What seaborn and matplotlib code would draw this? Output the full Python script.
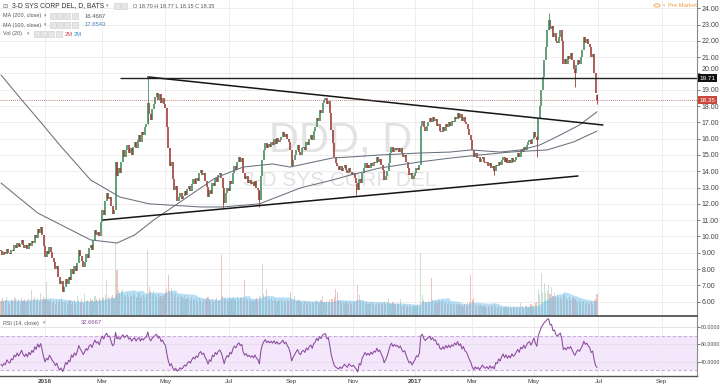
import numpy as np
import pandas as pd
import matplotlib
matplotlib.use("Agg")
import matplotlib.pyplot as plt
import matplotlib.transforms as mtransforms
from matplotlib.patches import Rectangle, Circle
import seaborn as sns

# ---------------- data ----------------
# daily closes, one per trading day, 2015-11-18 .. 2017-06-30
close = [
    9.1, 8.85, 9.05, 8.9, 9.25, 9.0, 8.9, 9.2, 9.1, 9.45, 9.3,
    9.6, 9.35, 9.55, 9.8, 9.5, 9.3, 9.5, 9.25, 9.6, 9.4,
    9.75, 9.6, 10.1, 9.9, 10.45, 10.2, 10.6,
    10.1, 9.4, 8.75, 9.1, 8.9, 9.35, 9.05, 8.7,
    8.45, 8.0, 8.2, 7.5, 7.1, 7.25, 6.6,
    6.9, 7.4, 7.1, 7.5, 7.3, 8.0, 7.7, 8.2,
    7.9, 8.4, 9.2, 8.8, 8.5, 8.1, 8.45, 8.9,
    8.7, 9.3, 9.5, 9.2, 9.8, 10.4, 10.1, 10.3,
    10.0, 10.9, 11.6, 11.3, 12.2, 12.65, 12.3, 12.45, 11.9,
    11.4, 11.65, 14.6, 13.7, 14.2, 13.9, 14.6, 15.3,
    14.9, 15.3, 15.6, 15.1, 15.4, 15.0, 15.5, 15.8, 15.4,
    15.9, 16.2, 15.8, 16.4, 16.2, 16.7, 16.9,
    18.2, 17.5, 17.15, 17.8, 18.1, 18.55,
    18.8, 18.4, 18.75, 18.2, 18.5, 18.1,
    17.9, 16.7, 15.4, 14.3, 14.6, 13.5, 12.85, 13.1, 12.2,
    12.4, 12.65, 12.3, 12.5, 12.8, 12.55, 12.9, 13.1, 12.8, 13.2,
    13.5, 13.25, 13.6, 13.4, 13.9, 14.1, 13.75, 13.9, 13.4, 13.05,
    12.4, 12.85, 12.6, 13.3, 13.1, 13.6, 13.35, 13.75, 13.9, 13.6,
    13.0, 12.05, 12.65, 13.0, 12.8, 13.4, 13.2, 13.9, 14.3, 14.1,
    14.6, 14.9, 14.6, 14.8, 13.9, 13.5, 13.7, 13.3, 13.45, 13.2,
    13.35, 13.1, 13.4, 13.0, 12.85, 12.25, 13.7, 14.7, 15.3, 15.75,
    15.4, 15.7, 15.5, 15.8, 15.6, 16.0, 15.7, 16.05, 15.8, 15.9,
    16.1, 16.4, 16.1, 16.3, 16.0, 15.8, 15.3, 14.3, 14.7, 15.0,
    15.3, 15.6, 15.2, 15.0, 15.4, 15.5, 15.3, 15.8, 15.6, 16.0,
    16.2, 15.9, 16.5, 16.7, 17.3, 17.1, 17.75, 17.6, 18.2, 18.4,
    18.5, 18.1, 18.3, 17.6, 16.55, 15.75, 14.9, 14.5, 14.3, 14.1,
    14.3, 14.0, 14.2, 14.4, 14.1, 13.9, 14.2, 13.95, 13.8, 13.9,
    13.6, 13.3, 12.85, 13.5, 13.3, 13.9, 14.2, 14.5, 14.2, 14.4,
    14.2, 14.5, 14.3, 14.6, 14.5, 14.9, 14.6, 14.75, 14.4, 14.1,
    13.45, 13.7, 14.0, 14.5, 15.1, 15.5, 15.2, 15.45, 15.3, 15.4,
    15.2, 15.4, 15.1, 14.9, 15.0, 14.6, 14.2, 13.8, 13.9, 13.5, 13.7,
    13.9, 14.2, 14.1, 14.4, 16.8, 17.1, 16.7, 16.5, 16.8,
    17.0, 17.3, 17.0, 17.35, 17.1, 17.2, 16.8, 16.9, 16.5, 16.4,
    16.7, 16.5, 16.9, 16.7, 17.0, 16.8, 17.1, 17.0, 17.35, 17.2,
    17.6, 17.3, 17.5, 17.1, 17.35, 17.0, 16.9, 16.6, 16.2, 15.9,
    15.3, 14.9, 15.1, 14.8, 14.9, 14.6, 14.75, 14.9, 14.6, 14.5,
    14.6, 14.3, 14.5, 14.2, 14.3, 14.0, 14.4, 14.3, 14.6, 14.4,
    14.7, 14.9, 14.6, 14.8, 14.5, 14.7, 14.5, 14.8, 14.6, 14.7,
    14.9, 15.1, 14.9, 15.3, 15.2, 15.5, 15.3, 15.6, 15.8, 15.9,
    15.7, 16.0, 16.4, 16.1, 15.9, 17.2, 18.0, 19.0, 19.8, 20.8,
    21.6, 22.65, 23.3, 22.7, 22.9, 22.25, 22.5, 22.0, 21.85, 22.25,
    22.65, 22.0, 20.6, 20.9, 20.6, 21.1, 20.9, 21.25, 20.8, 20.3,
    20.0, 20.5, 20.8, 20.6, 21.0, 21.45, 22.25, 21.9, 22.1, 21.8,
    21.6, 21.0, 21.2, 20.0, 18.8, 18.35,
]
first_open = 9.15
last_ohlc = (18.70, 18.77, 18.15, 18.35)
legend_ma200, legend_ma100, legend_rsi = "16.4667", "17.6543", "32.6667"

# daily volume, millions
volume = [
    2.3, 2.8, 2.1, 2.5, 3.0, 2.2, 1.9, 2.6, 2.4, 2.9, 2.7,
    2.2, 2.5, 2.0, 2.8, 2.3, 2.6, 2.1, 2.4, 2.7, 2.5,
    4.0, 2.6, 2.9, 2.4, 2.7, 2.2, 3.5,
    2.5, 3.0, 2.6, 5.2, 2.4, 2.2, 2.6, 2.0,
    2.3, 1.9, 2.5, 2.1, 2.4, 2.8, 2.2,
    2.0, 2.3, 1.8, 2.2, 2.5, 1.9, 2.1, 2.4,
    2.0, 3.1, 2.4, 2.2, 2.6, 2.0, 3.4, 2.3,
    2.5, 2.1, 2.7, 2.4, 2.2, 3.1, 2.6, 2.3,
    2.8, 2.5, 3.0, 2.7, 3.3, 5.5, 3.0, 2.6, 2.9,
    3.2, 2.8, 11.4, 7.1, 4.0, 3.5, 3.8, 4.2,
    3.3, 3.0, 3.6, 2.9, 3.4, 3.1, 3.7, 3.2, 2.8,
    3.0, 3.5, 2.7, 3.1, 3.3, 2.9, 3.6,
    10.2, 4.5, 3.8, 3.4, 3.9, 3.2,
    3.0, 3.4, 2.8, 3.1, 2.7, 3.3,
    3.6, 4.1, 6.3, 3.9, 4.3, 3.5, 3.2, 3.6, 3.0,
    3.3, 2.9, 3.1, 2.8, 3.2, 2.6, 3.0, 2.7, 2.5, 2.9,
    2.6, 2.4, 2.8, 2.3, 2.7, 2.5, 2.2, 2.6, 2.4, 2.8,
    3.0, 2.5, 2.3, 2.6, 2.2, 2.4, 2.7, 2.3, 2.5, 9.4,
    3.1, 2.8, 2.5, 2.6, 2.3, 2.7, 2.4, 2.8, 2.6, 2.5,
    2.9, 2.4, 2.7, 3.0, 2.6, 5.5, 2.8, 2.4, 2.6, 2.3,
    2.5, 2.2, 2.4, 2.7, 2.3, 2.9, 3.1, 8.0, 3.4, 3.0,
    4.2, 2.8, 2.5, 2.7, 2.3, 2.6, 2.4, 2.2, 2.5, 2.3,
    2.6, 2.2, 2.4, 2.1, 2.5, 2.3, 3.7, 2.6, 2.4, 3.1,
    2.3, 2.1, 2.4, 2.0, 2.2, 1.9, 2.3, 2.1, 2.0, 2.2,
    1.9, 2.1, 2.0, 2.3, 2.5, 2.2, 2.0, 2.4, 3.1, 2.2,
    2.0, 2.3, 2.1, 2.4, 2.6, 2.6, 2.9, 4.2, 3.7, 2.5,
    2.3, 2.0, 2.2, 1.9, 2.1, 1.8, 2.0, 2.2, 1.9, 2.1,
    2.0, 2.4, 4.8, 3.2, 2.3, 2.0, 2.2, 1.9, 2.1, 1.8,
    2.0, 1.8, 2.1, 1.9, 1.7, 2.0, 1.8, 2.1, 1.9, 2.0,
    2.2, 1.9, 2.1, 2.8, 2.0, 1.8, 2.1, 1.9, 1.7, 2.0,
    1.8, 2.6, 1.6, 1.5, 1.8, 1.4, 1.7, 1.5, 1.6, 1.4, 1.7,
    1.5, 1.6, 1.8, 1.7, 9.7, 3.2, 2.4, 2.2, 2.0,
    2.3, 2.1, 5.8, 2.5, 2.2, 2.4, 2.0, 2.6, 2.3, 2.1,
    2.4, 2.0, 2.2, 1.9, 2.1, 1.8, 2.0, 1.7, 1.9, 1.8,
    1.6, 1.9, 1.5, 1.7, 1.4, 1.8, 1.6, 2.0, 2.2, 6.3,
    2.4, 2.8, 1.9, 1.6, 1.8, 1.5, 1.7, 1.4, 1.6, 1.5,
    1.3, 1.6, 1.4, 1.7, 1.5, 2.0, 1.6, 1.4, 1.5, 1.3,
    1.5, 1.2, 1.4, 1.6, 1.3, 1.5, 1.4, 1.2, 1.6, 1.4,
    1.3, 1.5, 1.4, 2.0, 1.6, 1.3, 1.5, 1.7, 1.4, 1.6,
    1.8, 1.5, 1.7, 2.0, 2.2, 4.0, 3.2, 6.6, 3.5, 5.1,
    3.6, 3.9, 4.8, 3.4, 4.5, 3.1, 3.5, 2.9, 3.3, 2.7,
    3.0, 2.6, 3.2, 3.7, 2.8, 2.5, 2.9, 2.4, 2.7, 3.0,
    2.6, 2.3, 2.1, 2.4, 2.0, 2.2, 2.3, 1.9, 2.1, 1.8,
    2.0, 2.2, 1.9, 2.4, 2.6, 3.4,
]

# notable wicks (bar index, high, low)
wick_idx = [100, 151, 176, 242, 336, 365, 373, 391, 406]
wick_high = [19.80, 13.00, 12.85, 13.30, 14.30, 16.20, 23.70, 20.30, 18.77]
wick_low = [16.90, 11.75, 11.80, 12.55, 13.75, 14.90, 22.65, 19.20, 18.15]

# moving averages (bar index, value)
ma200_idx = [0, 13, 27, 40, 61, 81, 101, 136, 151, 176, 204, 226, 238, 258, 285, 306, 326, 347, 372, 390, 406]
ma200_val = [19.91, 18.50, 17.02, 15.61, 13.47, 12.42, 12.00, 11.81, 11.81, 12.00, 12.98, 13.47, 13.77, 14.20,
             14.57, 14.81, 15.00, 15.18, 15.31, 15.80, 16.47]
ma100_idx = [0, 25, 61, 79, 91, 104, 119, 131, 146, 165, 185, 197, 213, 226, 238, 258, 285, 306, 320, 340,
             354, 367, 381, 394, 406]
ma100_val = [13.28, 11.44, 9.79, 9.60, 10.09, 11.01, 11.93, 12.67, 13.59, 14.26, 14.45, 14.26, 14.57, 14.82,
             14.88, 15.00, 15.12, 15.18, 15.31, 15.18, 15.31, 15.61, 16.23, 16.84, 17.65]

# drawings
trend_upper_idx, trend_upper_val = [100, 410], [19.79, 16.84]
trend_lower_idx, trend_lower_val = [69.5, 393], [11.01, 13.71]
resist_start, resist_level = 81, 19.71

rsi_seed_gain, rsi_seed_loss = 0.12, 0.20

month_idx = [30, 69, 112, 155, 198, 240, 282, 321, 363, 407, 450]
month_lbl = ['2016', 'Mar', 'May', 'Jul', 'Sep', 'Nov', '2017', 'Mar', 'May', 'Jul', 'Sep']
price_ticks = list(range(6, 25))
rsi_ticks = [40, 60, 80]

# ---------------- derived ----------------
n = len(close)
assert n == 407 and len(volume) == 407, (n, len(volume))
idx = np.arange(n)
c = np.array(close)
o = np.concatenate([[first_open], c[:-1]])
o[-1] = last_ohlc[0]
up = c >= o
vol = pd.Series(volume)
vma = vol.rolling(20, min_periods=1).mean()

ag, al = rsi_seed_gain, rsi_seed_loss
rsi = []
prev = first_open
for v in c:
    d = v - prev
    ag = (ag * 13 + max(d, 0)) / 14
    al = (al * 13 + max(-d, 0)) / 14
    rsi.append(100 - 100 / (1 + ag / al))
    prev = v
rsi = np.array(rsi)

# ---------------- figure ----------------
sns.set_style("white")
plt.rcParams['font.family'] = ['Liberation Sans', 'DejaVu Sans']

W, H = 720, 384
fig = plt.figure(figsize=(7.2, 3.84), dpi=100)


def fpos(x0, y0, x1, y1):
    return [x0 / W, 1 - y1 / H, (x1 - x0) / W, (y1 - y0) / H]


XL = (-0.68, 474.1)
YL = (5.12, 24.51)
price_pos = fpos(0, 0, 697, 316)
rsi_pos = fpos(0, 316, 697, 376)
GRID = '#ebebeb'

ax_g = fig.add_axes(price_pos, zorder=0)
ax_v = fig.add_axes(price_pos, zorder=1)
ax = fig.add_axes(price_pos, zorder=2)
for a in (ax_g, ax_v, ax):
    a.set_xlim(*XL)
    a.set_xticks([])
    a.set_yticks([])
    for s in a.spines.values():
        s.set_visible(False)
ax_v.set_facecolor('none')
ax.set_facecolor('none')
ax_g.set_ylim(*YL)
ax.set_ylim(*YL)

for p in price_ticks:
    ax_g.axhline(p, color=GRID, lw=0.6)
for m in month_idx:
    ax_g.axvline(m, color=GRID, lw=0.6)

ax_g.text(0.488, 0.554, "DDD, D", transform=ax_g.transAxes, fontsize=30, color='#e2e2e2',
          ha='center', va='center', family='Liberation Sans')
ax_g.text(0.488, 0.430, "3-D SYS CORP DEL", transform=ax_g.transAxes, fontsize=15, color='#e2e2e2',
          ha='center', va='center', family='Liberation Sans')

# volume
ax_v.set_ylim(0, 316 / 6.5)
ax_v.bar(idx[up], vol[up], width=0.75, color='#6ba583', alpha=0.35, linewidth=0)
ax_v.bar(idx[~up], vol[~up], width=0.75, color='#d75442', alpha=0.35, linewidth=0)
ax_v.fill_between(idx, 0, vma, color='#5ab4ec', alpha=0.42, linewidth=0)

# candles
lo_b = np.minimum(o, c)
hi_b = np.maximum(o, c)
tiny = (hi_b - lo_b) < 0.05
lo_b = np.where(tiny, lo_b - 0.03, lo_b)
hi_b = np.where(tiny, hi_b + 0.03, hi_b)
UP, DN = '#3f8a5c', '#9a3a31'
ax.vlines(idx[up], lo_b[up], hi_b[up], color=UP, lw=1.15)
ax.vlines(idx[~up], lo_b[~up], hi_b[~up], color=DN, lw=1.15)
wc = [UP if up[i] else DN for i in wick_idx]
ax.vlines(wick_idx, wick_low, wick_high, color=wc, lw=0.6)

sns.lineplot(x=ma200_idx, y=ma200_val, ax=ax, color='#69717d', lw=0.75)
sns.lineplot(x=ma100_idx, y=ma100_val, ax=ax, color='#69717d', lw=0.75)

ax.plot(trend_upper_idx, trend_upper_val, color='#151515', lw=1.1)
ax.plot(trend_lower_idx, trend_lower_val, color='#151515', lw=1.1)
ax.hlines(resist_level, resist_start, XL[1], color='#222222', lw=1.0)
ax.axhline(last_ohlc[3], color='#c0504d', lw=0.6, ls=(0, (1, 1.5)))

ax.set_xlabel('')
ax.set_ylabel('')
ax.yaxis.tick_right()
ax.set_yticks(price_ticks)
ax.set_yticklabels([f"{p:.2f}" for p in price_ticks])
ax.tick_params(axis='y', labelsize=5, colors='#444444', length=2, width=0.5, pad=1.5)
ax.spines['right'].set_visible(True)
ax.spines['right'].set_color('#8a8a8a')
ax.spines['right'].set_linewidth(0.8)
for lab in ax.get_yticklabels():
    if lab.get_text() == "20.00":
        lab.set_va('bottom')

trans = mtransforms.blended_transform_factory(ax.transAxes, ax.transData)
ax.text(1.004, resist_level, f"{resist_level:.2f}", transform=trans, fontsize=4.6, color='white',
        va='center', ha='left', clip_on=False,
        bbox=dict(boxstyle='square,pad=0.22', fc='#111111', ec='none'))
ax.text(1.004, last_ohlc[3], f"{last_ohlc[3]:.2f}", transform=trans, fontsize=4.6, color='white',
        va='center', ha='left', clip_on=False,
        bbox=dict(boxstyle='square,pad=0.22', fc='#c9473b', ec='none'))

# RSI pane
rax = fig.add_axes(rsi_pos, zorder=3)
rax.set_xlim(*XL)
rax.set_ylim(23.5, 92.7)
rax.axhspan(30, 70, color='#f4e7fb', lw=0)
for g in rsi_ticks:
    rax.axhline(g, color='#e4dceb', lw=0.6)
for m in month_idx:
    rax.axvline(m, color=GRID, lw=0.6)
for lev in (30, 70):
    rax.axhline(lev, color='#c9add9', lw=0.8, ls=(0, (3, 2)))
sns.lineplot(x=idx, y=rsi, ax=rax, color='#8a4a9c', lw=0.75)
rax.set_xlabel('')
rax.set_ylabel('')
rax.yaxis.tick_right()
rax.set_yticks(rsi_ticks)
rax.set_yticklabels([f"{t:.4f}" for t in rsi_ticks])
rax.tick_params(axis='y', labelsize=3.8, colors='#444444', length=2, width=0.5, pad=1)
rax.set_xticks(month_idx)
rax.set_xticklabels(month_lbl)
rax.tick_params(axis='x', labelsize=4.6, colors='#444444', length=0, pad=2)
for lab in rax.get_xticklabels():
    if lab.get_text().isdigit():
        lab.set_fontweight('bold')
rax.spines['left'].set_visible(False)
rax.spines['top'].set_color('#555555')
rax.spines['top'].set_linewidth(1.3)
rax.spines['bottom'].set_color('#555555')
rax.spines['bottom'].set_linewidth(1.0)
rax.spines['right'].set_color('#8a8a8a')
rax.spines['right'].set_linewidth(0.8)

# ---------------- header texts ----------------
def P(x, y):
    return x / W, 1 - y / H


def boxes(xs, y):
    for x in xs:
        fig.patches.append(Rectangle(P(x, y + 3), 6 / W, 6 / H, transform=fig.transFigure,
                                     fc='#e6e6e6', ec='#cccccc', lw=0.4))


fig.text(*P(2, 6), "⊟", fontsize=4.5, color='#777777', va='center')
fig.text(*P(12, 6), "3-D SYS CORP DEL, D, BATS", fontsize=4.9, color='#333333', va='center')
fig.text(*P(106, 6), "▾", fontsize=3.5, color='#888888', va='center')
boxes([114, 121], 6)
fig.text(*P(133, 6), "O %.2f H %.2f L %.2f C %.2f" % last_ohlc, fontsize=4.0, color='#555555', va='center')

fig.text(*P(3, 16), "MA (200, close)", fontsize=3.9, color='#555555', va='center')
fig.text(*P(44, 16), "▾", fontsize=3.3, color='#888888', va='center')
boxes([50, 57, 64, 72], 16)
fig.text(*P(85, 16), legend_ma200, fontsize=4.2, color='#555555', va='center')

fig.text(*P(3, 25), "MA (100, close)", fontsize=3.9, color='#555555', va='center')
fig.text(*P(44, 25), "▾", fontsize=3.3, color='#888888', va='center')
boxes([50, 57, 64, 72], 25)
fig.text(*P(85, 25), legend_ma100, fontsize=4.2, color='#4a7fb5', va='center')

fig.text(*P(3, 34), "Vol (20)", fontsize=3.9, color='#555555', va='center')
fig.text(*P(27, 34), "▾", fontsize=3.3, color='#888888', va='center')
boxes([34, 41, 48, 56], 34)
fig.text(*P(65, 34), "2M", fontsize=4.2, color='#d04a4a', va='center')
fig.text(*P(74, 34), "2M", fontsize=4.2, color='#3d8fd0', va='center')

fig.text(*P(3, 323), "RSI (14, close)", fontsize=3.9, color='#555555', va='center')
fig.text(*P(43, 323), "▾", fontsize=3.3, color='#888888', va='center')
boxes([49, 56, 63, 71], 323)
fig.text(*P(81, 323), legend_rsi, fontsize=4.2, color='#8a4a9c', va='center')

fig.patches.append(Circle(P(657, 5.5), 3.0 / W, transform=fig.transFigure, fc='none', ec='#f0a040', lw=0.6))
fig.text(*P(663, 5.5), "•", fontsize=4.2, color='#f0a040', va='center')
fig.text(*P(668, 5.5), "Pre Market", fontsize=4.2, color='#f0a040', va='center')

fig.savefig("out.png", dpi=100)
